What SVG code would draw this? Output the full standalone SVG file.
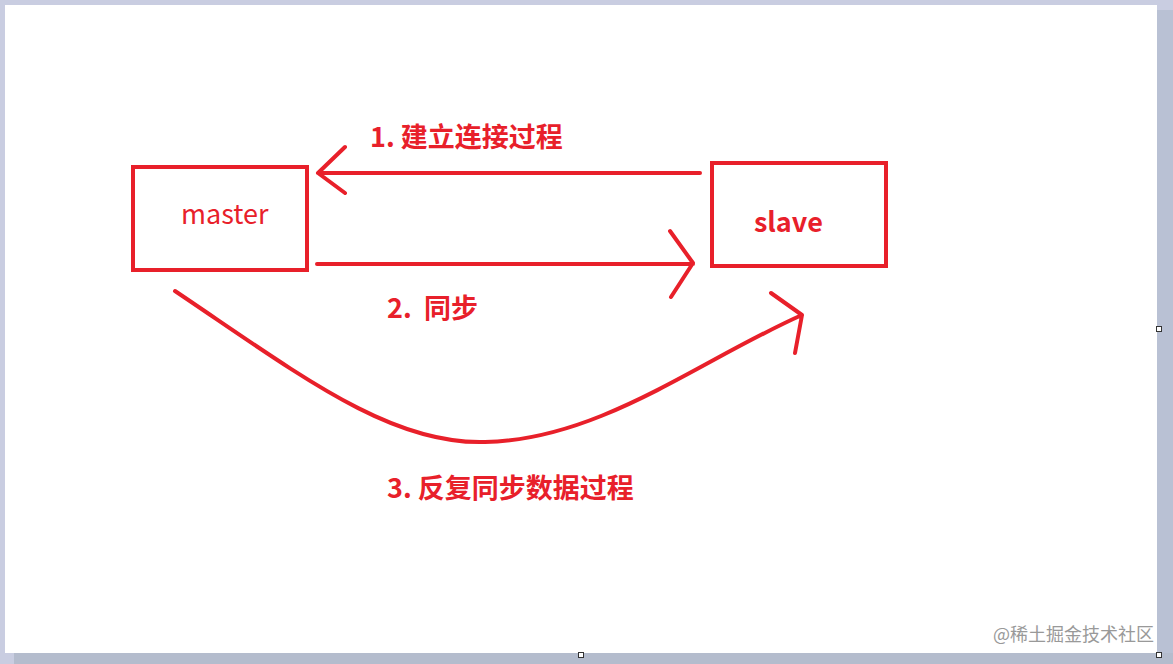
<svg xmlns="http://www.w3.org/2000/svg" width="1173" height="664" viewBox="0 0 1173 664">
<style>
.box{fill:none;stroke:#e8202a;stroke-width:4}
.ln{fill:none;stroke:#e8202a;stroke-width:4;stroke-linecap:round;stroke-linejoin:round}
.lbl{fill:#e8202a;font-family:"Noto Sans CJK SC","Noto Sans",sans-serif;font-weight:bold;font-size:27px}
.h{fill:#fff;stroke:#333;stroke-width:1}
</style>
<rect x="0" y="0" width="1173" height="664" fill="#c9cde1"/>
<rect x="1157" y="10" width="16" height="654" fill="#b9c1d4"/>
<rect x="14" y="653" width="1159" height="11" fill="#b4bccd"/>
<rect x="5" y="5" width="1152" height="648" fill="#ffffff"/>
<rect class="h" x="1156.5" y="326.5" width="5" height="5"/>
<rect class="h" x="578.5" y="652.5" width="5" height="5"/>
<rect class="h" x="1156.5" y="652.5" width="5" height="5"/>
<g id="master">
<rect class="box" x="133" y="167" width="174" height="103"/>
<text x="181" y="224" fill="#e8202a" font-family="Noto Sans CJK SC,Noto Sans,sans-serif" font-size="27">master</text>
</g>
<g id="slave">
<rect class="box" x="712" y="163" width="174" height="103"/>
<text x="754" y="232" class="lbl" font-size="28">slave</text>
</g>
<g id="connectors">
<path class="ln" d="M700 173 L318 173 M345 147 L318 173 L345 193"/>
<path class="ln" d="M317 264 L693 264 M670 231 L693 263 L671 297"/>
<path class="ln" d="M175 291 C300 375 390 445 485 442 C600 440 700 360 802 315 M771 293 L802 315 L795 353"/>
</g>
<g id="labels">
<text class="lbl" x="370" y="147">1. 建立连接过程</text>
<text class="lbl" x="387" y="318">2.<tspan x="424">同步</tspan></text>
<text class="lbl" x="387" y="498">3. 反复同步数据过程</text>
</g>
<text x="993" y="641" fill="#999" font-family="Noto Sans CJK SC,sans-serif" font-size="18">@稀土掘金技术社区</text>
</svg>
